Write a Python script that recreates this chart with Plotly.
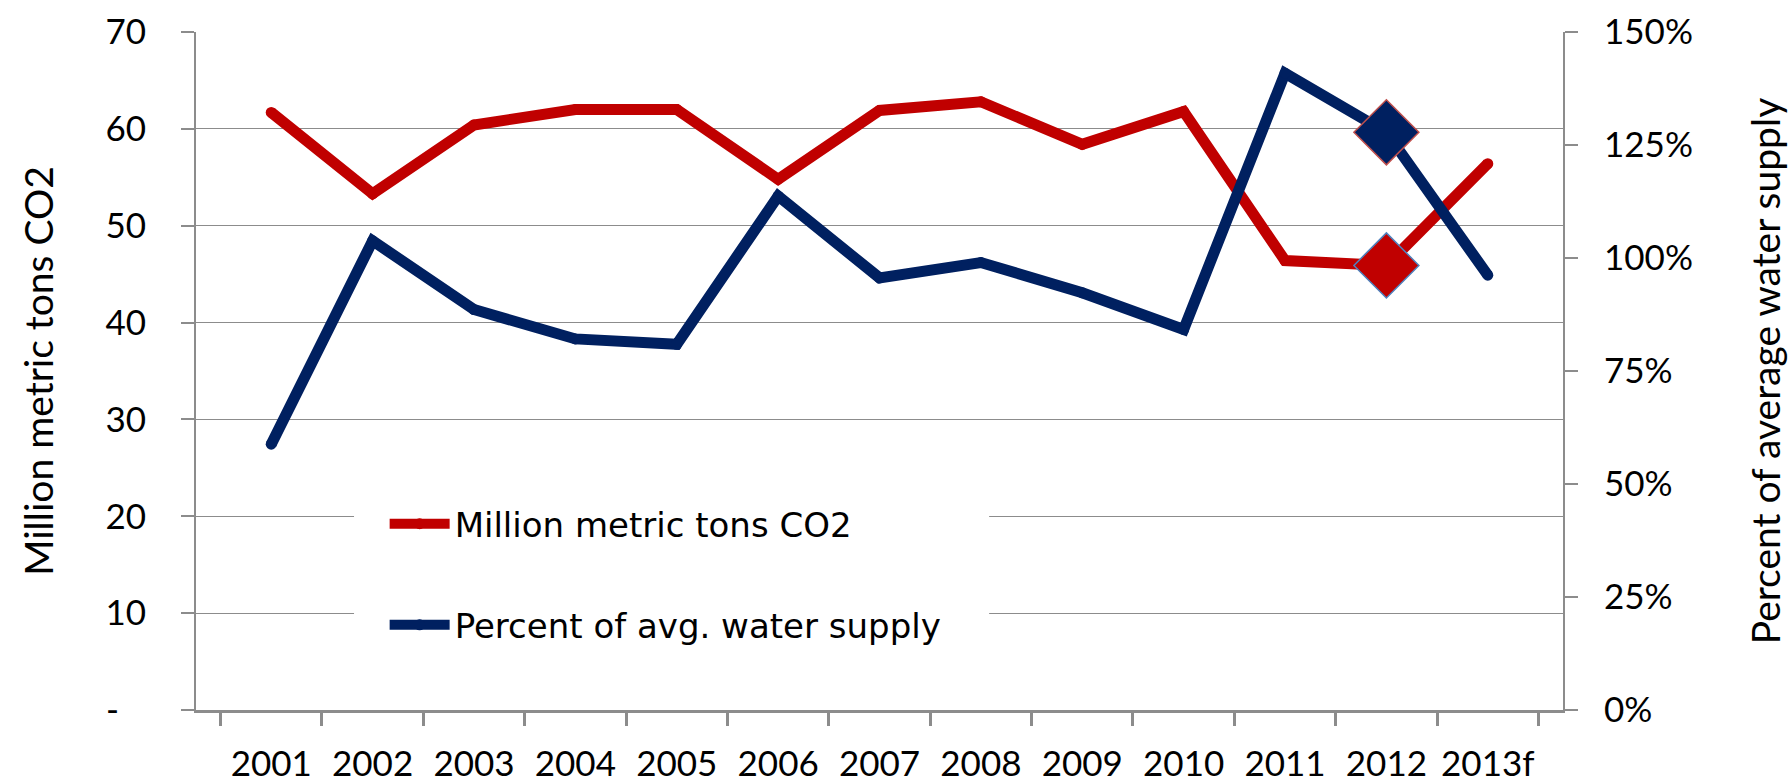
import plotly.graph_objects as go

# Categories and series
years = ["2001", "2002", "2003", "2004", "2005", "2006", "2007",
         "2008", "2009", "2010", "2011", "2012", "2013f"]
co2_mmt = [61.7, 53.3, 60.4, 62.0, 62.0, 54.8, 61.9,
           62.8, 58.4, 61.8, 46.4, 45.9, 56.4]
water_pct = [0.588, 1.038, 0.886, 0.821, 0.809, 1.137, 0.956,
             0.990, 0.923, 0.842, 1.409, 1.278, 0.962]

# Highlighted year
highlight_year = "2012"
hi = years.index(highlight_year)

# Left axis tick labels (accounting-style dash for zero)
left_tickvals = [0, 10, 20, 30, 40, 50, 60, 70]
left_ticktext = ["-\u00a0\u00a0\u00a0", "10", "20", "30", "40", "50", "60", "70"]
right_tickvals = [0, 0.25, 0.5, 0.75, 1.0, 1.25, 1.5]

RED = "#C00000"
NAVY = "#002060"
GRID = "#8C8C8C"
FONT = "Lato"
LEGEND_FONT = "DejaVu Sans"

fig = go.Figure()

fig.add_trace(go.Scatter(
    x=years, y=co2_mmt, name="Million metric tons CO2",
    mode="lines+markers",
    line=dict(color=RED, width=11),
    marker=dict(color=RED, size=11, line=dict(width=0)),
    legendgroup="co2", yaxis="y",
))
fig.add_trace(go.Scatter(
    x=years, y=water_pct, name="Percent of avg. water supply",
    mode="lines+markers",
    line=dict(color=NAVY, width=11),
    marker=dict(color=NAVY, size=11, line=dict(width=0)),
    legendgroup="water", yaxis="y2",
))

# Diamond markers on the highlighted year
fig.add_trace(go.Scatter(
    x=[years[hi]], y=[co2_mmt[hi]], mode="markers", showlegend=False,
    marker=dict(symbol="diamond", size=50, color=RED,
                line=dict(color="#4F81BD", width=1.5)),
    yaxis="y",
))
fig.add_trace(go.Scatter(
    x=[years[hi]], y=[water_pct[hi]], mode="markers", showlegend=False,
    marker=dict(symbol="diamond", size=50, color=NAVY,
                line=dict(color="#C0504D", width=1.5)),
    yaxis="y2",
))

# White legend panel over the gridlines
fig.add_shape(type="rect", xref="paper", yref="paper",
              x0=0.1156, x1=0.5802, y0=0.074, y1=0.339,
              fillcolor="white", line=dict(width=0), layer="above")

fig.update_layout(
    width=1791, height=782,
    margin=dict(l=196, r=228, t=32, b=72, autoexpand=False),
    paper_bgcolor="white", plot_bgcolor="white",
    font=dict(family=FONT, size=35, color="black"),
    showlegend=True,
    legend=dict(
        x=0.138, y=0.317, xanchor="left", yanchor="top",
        bgcolor="rgba(0,0,0,0)", borderwidth=0,
        font=dict(family=LEGEND_FONT, size=34, color="black"),
        traceorder="grouped", tracegroupgap=54,
        itemwidth=60,
    ),
    xaxis=dict(
        type="category", tickson="boundaries", automargin=False,
        tickangle=0,
        ticks="outside", ticklen=13, tickwidth=3, tickcolor=GRID,
        showline=True, linecolor=GRID, linewidth=3,
        showgrid=False, zeroline=False,
        tickfont=dict(family=FONT, size=35),
        ticklabelstandoff=21,
    ),
    yaxis=dict(
        range=[0, 70], tickvals=left_tickvals, ticktext=left_ticktext,
        automargin=False,
        ticks="outside", ticklen=13, tickwidth=2, tickcolor=GRID,
        showline=True, linecolor=GRID, linewidth=2,
        showgrid=True, gridcolor=GRID, gridwidth=1.3,
        zeroline=False,
        tickfont=dict(family=FONT, size=35),
        ticklabelstandoff=28,
        title=dict(text="Million metric tons CO2",
                   font=dict(family=FONT, size=39), standoff=40),
    ),
    yaxis2=dict(
        range=[0, 1.5], tickvals=right_tickvals, tickformat=".0%",
        overlaying="y", side="right", automargin=False,
        ticks="outside", ticklen=13, tickwidth=2, tickcolor=GRID,
        showline=True, linecolor=GRID, linewidth=2,
        showgrid=False, zeroline=False,
        tickfont=dict(family=FONT, size=35),
        ticklabelstandoff=19,
        title=dict(text="Percent of average water supply",
                   font=dict(family=FONT, size=39), standoff=61),
    ),
)

fig.write_html("out.html")
